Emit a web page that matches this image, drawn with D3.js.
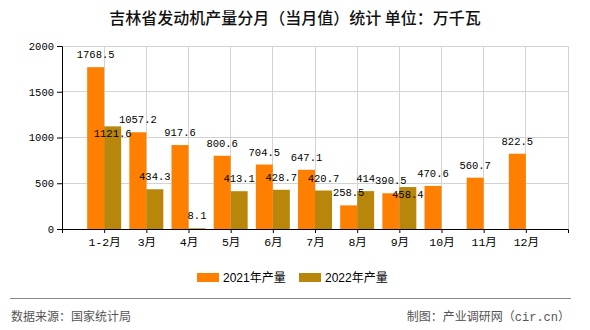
<!DOCTYPE html>
<html><head><meta charset="utf-8">
<script src="https://cdn.jsdelivr.net/npm/d3@7/dist/d3.min.js"></script>
<style>body{margin:0;background:#fff}svg{display:block}</style>
</head><body>
<svg id="c" width="590" height="330"></svg>
<script>
const categories = ["1-2月","3月","4月","5月","6月","7月","8月","9月","10月","11月","12月"];
const values2021 = [1768.5,1057.2,917.6,800.6,704.5,647.1,258.5,390.5,470.6,560.7,822.5];
const values2022 = [1121.6,434.3,8.1,413.1,428.7,420.7,414,458.4,null,null,null];
const yTicks = [0,500,1000,1500,2000];
const seriesNames = ["2021年产量","2022年产量"];
const labelBelow2022 = ["1-2月","9月"];

const colors = ["#FF8000","#B8860B"];
const svg = d3.select("#c");
const L=62,R=568,T=46,B=229;
const x = d3.scalePoint().domain(categories).range([L,R]).padding(1);
const y = d3.scaleLinear().domain([0,2000]).range([B,T]);
const bw = 17;
const mono = "'Liberation Mono','Noto Sans CJK SC',monospace";
const cjk = "'Noto Sans CJK SC',sans-serif";

// title
svg.append("text").attr("x",295).attr("y",24).attr("text-anchor","middle")
  .attr("font-family",cjk).attr("font-size",16).attr("font-weight",500).attr("fill","#111")
  .text("吉林省发动机产量分月（当月值）统计 单位：万千瓦");

// grid
const g = svg.append("g");
g.selectAll(".hg").data(yTicks.filter(d=>d>0)).join("line")
  .attr("x1",L).attr("x2",R).attr("y1",d=>y(d)).attr("y2",d=>y(d))
  .attr("stroke","#d3d3d3").attr("stroke-width",1).attr("shape-rendering","crispEdges");
g.selectAll(".vg").data(categories.map(c=>x(c)).concat([R])).join("line")
  .attr("x1",d=>d).attr("x2",d=>d).attr("y1",T).attr("y2",B)
  .attr("stroke","#d3d3d3").attr("stroke-width",1).attr("shape-rendering","crispEdges");

// bars
const bars = svg.append("g");
bars.selectAll(".b1").data(categories).join("rect")
  .attr("x",c=>x(c)-bw).attr("width",bw)
  .attr("y",(c,i)=>y(values2021[i])).attr("height",(c,i)=>B-y(values2021[i]))
  .attr("fill",colors[0]);
const c22 = categories.filter((c,i)=>values2022[i]!=null);
bars.selectAll(".b2").data(c22).join("rect")
  .attr("x",c=>x(c)).attr("width",bw)
  .attr("y",(c,i)=>y(values2022[i])).attr("height",(c,i)=>B-y(values2022[i]))
  .attr("fill",colors[1]);

// axes
const ya = svg.append("g").attr("transform",`translate(${L},0)`)
  .call(d3.axisLeft(y).tickValues(yTicks).tickSize(5).tickPadding(3).tickFormat(d3.format("d")));
ya.select(".domain").attr("stroke","#000");
ya.selectAll("text").attr("font-family",mono).attr("font-size",10.5).attr("fill","#000");
const xa = svg.append("g").attr("transform",`translate(0,${B})`)
  .call(d3.axisBottom(x).tickSize(4).tickPadding(5).tickSizeOuter(4));
xa.select(".domain").attr("stroke","#000");
xa.selectAll("text").attr("font-family",mono).attr("font-size",11.5).attr("fill","#000");

// value labels
const lab = svg.append("g").attr("font-family",mono).attr("font-size",10.5).attr("fill","#000").attr("text-anchor","middle");
lab.selectAll(".l1").data(categories).join("text")
  .attr("x",c=>x(c)-bw/2).attr("y",(c,i)=>y(values2021[i])-9)
  .text((c,i)=>values2021[i]);
lab.selectAll(".l2").data(c22).join("text")
  .attr("x",c=>x(c)+bw/2)
  .attr("y",(c,i)=>labelBelow2022.includes(c)? y(values2022[i])+11 : y(values2022[i])-9)
  .text((c,i)=>values2022[i]);

// legend
const lg = svg.append("g");
const lx = [197,299];
seriesNames.forEach((n,i)=>{
  lg.append("rect").attr("x",lx[i]).attr("y",273).attr("width",22).attr("height",9).attr("fill",colors[i]);
  lg.append("text").attr("x",lx[i]+26).attr("y",281.5).attr("font-family","'Liberation Sans','Noto Sans CJK SC',sans-serif")
    .attr("font-size",12).attr("fill","#000").text(n);
});

// footer
svg.append("line").attr("x1",10).attr("x2",571).attr("y1",298.5).attr("y2",298.5).attr("stroke","#888").attr("stroke-width",1.2);
svg.append("text").attr("x",11).attr("y",321).attr("font-family",cjk).attr("font-size",12).attr("fill","#555").text("数据来源：国家统计局");
svg.append("text").attr("x",570).attr("y",321).attr("text-anchor","end").attr("font-family",mono).attr("font-size",12).attr("fill","#555").text("制图：产业调研网（cir.cn）");
</script>
</body></html>
